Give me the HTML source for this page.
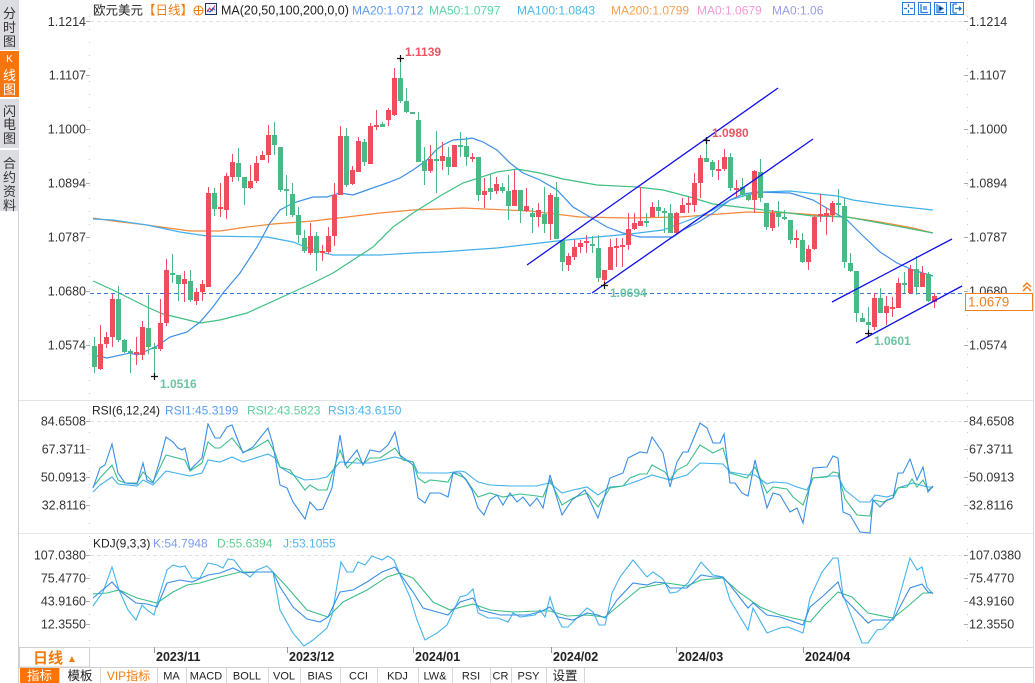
<!DOCTYPE html>
<html><head><meta charset="utf-8"><style>
html,body{margin:0;padding:0;background:#fff;width:1035px;height:683px;overflow:hidden}
svg{display:block}
text{font-family:"Liberation Sans","Noto Sans CJK SC",sans-serif}
.ax{font-size:12.5px;fill:#333}
.cj{font-family:"Liberation Sans","Noto Sans CJK SC",sans-serif}
.tb{font-family:"Liberation Mono","Noto Sans CJK SC",monospace;font-size:11px;fill:#222}
</style></head><body>
<svg width="1035" height="683" viewBox="0 0 1035 683" xmlns="http://www.w3.org/2000/svg">
<!-- sidebar -->
<rect x="0" y="0" width="19" height="50" fill="#dcdde3"/>
<rect x="0" y="51" width="19" height="46" fill="#f5760f"/>
<rect x="0" y="99" width="19" height="49" fill="#dcdde3"/>
<rect x="0" y="150" width="19" height="61" fill="#dcdde3"/>
<line x1="18.5" y1="211" x2="18.5" y2="683" stroke="#cfcfd4"/>
<g font-size="13" fill="#333" text-anchor="middle" class="cj">
<text x="9.5" y="18">分</text><text x="9.5" y="32">时</text><text x="9.5" y="46">图</text>
<text x="9.5" y="62" font-size="10" fill="#fff">K</text><text x="9.5" y="80" fill="#fff">线</text><text x="9.5" y="94" fill="#fff">图</text>
<text x="9.5" y="116">闪</text><text x="9.5" y="129">电</text><text x="9.5" y="143">图</text>
<text x="9.5" y="168">合</text><text x="9.5" y="182">约</text><text x="9.5" y="196">资</text><text x="9.5" y="210">料</text>
</g>
<!-- right border -->
<line x1="1033.5" y1="0" x2="1033.5" y2="683" stroke="#dedede"/>
<!-- legend -->
<g font-size="12">
<text x="93" y="14.5" fill="#222" font-size="12.5">欧元美元</text>
<text x="143" y="14.5" fill="#f07c10" font-size="12.5">【日线】</text>
<text x="221" y="14.5" fill="#222" font-size="12.5">MA(20,50,100,200,0,0)</text>
<text x="352" y="14.5" fill="#5b9df5">MA20:1.0712</text>
<text x="429" y="14.5" fill="#5fd3a5">MA50:1.0797</text>
<text x="517" y="14.5" fill="#4db8ea">MA100:1.0843</text>
<text x="611" y="14.5" fill="#f5a050">MA200:1.0799</text>
<text x="697" y="14.5" fill="#f09ad8">MA0:1.0679</text>
<text x="772" y="14.5" fill="#9a9af5">MA0:1.06</text>
</g>
<circle cx="198.5" cy="10.5" r="4.5" fill="none" stroke="#f07c10"/>
<line x1="194" y1="10.5" x2="203" y2="10.5" stroke="#f07c10"/><line x1="198.5" y1="6" x2="198.5" y2="15" stroke="#f07c10"/>
<rect x="205.5" y="3.5" width="11" height="11" fill="#f4f6ff" stroke="#223366"/>
<polyline points="207,12 209.5,8 212,11 215,5.5" fill="none" stroke="#e03040"/>
<polyline points="207,10 210,12 213,8 215,10" fill="none" stroke="#2050d0"/>
<!-- top right icons -->
<g fill="#fff" stroke="#2b7bd6">
<rect x="902.5" y="2.5" width="12" height="12"/><rect x="918.5" y="2.5" width="12" height="12"/>
<rect x="934.5" y="2.5" width="12" height="12"/><rect x="950.5" y="2.5" width="13" height="12"/>
</g>
<g stroke="#2b7bd6" stroke-width="1.3">
<path d="M908.5 4v3M908.5 10v3M904 8.5h3M910 8.5h3"/>
<path d="M921 4v9M921 12.5h7M924 6v4M926 6v4"/>
<path d="M937 4v9M937 12.5h7M939 6l4 2.5-4 2.5z"/>
<path d="M953 4v9M953 4h4M953 13h4M955 8.5h6M959 6.5l2 2-2 2"/>
</g>
<!-- grid & axes -->
<line x1="90" y1="21.5" x2="963" y2="21.5" stroke="#e2e2e2" stroke-dasharray="4,3"/>
<line x1="90" y1="421.5" x2="963" y2="421.5" stroke="#e2e2e2" stroke-dasharray="4,3"/>
<line x1="90" y1="555.5" x2="963" y2="555.5" stroke="#e2e2e2" stroke-dasharray="4,3"/>
<line x1="19" y1="400.5" x2="1033" y2="400.5" stroke="#e3e3e8"/>
<line x1="19" y1="533.5" x2="1033" y2="533.5" stroke="#e3e3e8"/>
<line x1="19" y1="647.5" x2="1033" y2="647.5" stroke="#dcdcdc"/>
<line x1="89.5" y1="16" x2="89.5" y2="647" stroke="#c8c8c8" stroke-dasharray="1,12"/>
<line x1="967.5" y1="16" x2="967.5" y2="647" stroke="#c8c8c8" stroke-dasharray="1,12"/>
<g stroke="#aaa">
<path d="M86 21.5h4M86 75.5h4M86 129.5h4M86 183.5h4M86 237.5h4M86 291.5h4M86 345.5h4M86 421.5h4M86 449.5h4M86 477.5h4M86 505.5h4M86 555.5h4M86 578.5h4M86 601.5h4M86 624.5h4"/>
<path d="M964 21.5h4M964 75.5h4M964 129.5h4M964 183.5h4M964 237.5h4M964 291.5h4M964 345.5h4M964 421.5h4M964 449.5h4M964 477.5h4M964 505.5h4M964 555.5h4M964 578.5h4M964 601.5h4M964 624.5h4"/>
</g>
<g class="ax" text-anchor="end">
<text x="86" y="26">1.1214</text><text x="86" y="79.5">1.1107</text><text x="86" y="133.5">1.1000</text><text x="86" y="187.5">1.0894</text><text x="86" y="241.5">1.0787</text><text x="86" y="295.5">1.0680</text><text x="86" y="349.5">1.0574</text>
<text x="86" y="425.5">84.6508</text><text x="86" y="453.5">67.3711</text><text x="86" y="481.5">50.0913</text><text x="86" y="509.5">32.8116</text>
<text x="86" y="559.5">107.0380</text><text x="86" y="582.5">75.4770</text><text x="86" y="605.5">43.9160</text><text x="86" y="628.5">12.3550</text>
</g>
<g class="ax">
<text x="969" y="26">1.1214</text><text x="969" y="79.5">1.1107</text><text x="969" y="133.5">1.1000</text><text x="969" y="187.5">1.0894</text><text x="969" y="241.5">1.0787</text><text x="969" y="295.5">1.0680</text><text x="969" y="349.5">1.0574</text>
<text x="969" y="425.5">84.6508</text><text x="969" y="453.5">67.3711</text><text x="969" y="481.5">50.0913</text><text x="969" y="509.5">32.8116</text>
<text x="969" y="559.5">107.0380</text><text x="969" y="582.5">75.4770</text><text x="969" y="605.5">43.9160</text><text x="969" y="628.5">12.3550</text>
</g>
<!-- MA lines -->
<g fill="none" stroke-width="1.2">
<polyline stroke="#f5883a" points="93,218 113,221 147,225 190,231 220,231 247,227 273,224 313,221 347,217 380,213 413,210 440,209 463,208 530,211 580,217 630,218 680,217 720,214 747,212 790,213 847,217 880,222 913,228 933,233"/>
<polyline stroke="#40b0ec" points="93,219 113,220 147,225 180,232 207,236 267,237 293,242 313,250 333,255 380,255 413,253 440,252 497,248 557,241 597,237 630,234 663,230 697,217 713,210 730,200 747,195 763,192 790,191 837,196 853,200 887,205 933,210"/>
<polyline stroke="#3fbf80" points="93,281 113,290 147,307 163,314 180,318 200,323 220,320 247,313 280,298 313,283 333,273 353,260 373,247 393,227 413,213 440,196 463,183 497,172 517,169 540,173 563,179 597,185 637,187 663,190 690,197 713,204 747,208 780,212 813,216 847,217 880,223 933,233"/>
<polyline stroke="#3d8fe8" points="93,355 107,358 130,353 137,355 157,346 170,337 187,332 200,322 213,307 223,293 240,273 257,247 270,223 280,210 293,203 313,197 327,197 340,193 353,195 367,190 387,183 400,178 413,170 427,160 436,150 443,145 453,140 467,139 472,138 483,142 497,150 510,163 523,173 540,180 557,190 573,207 590,217 607,227 623,233 640,237 663,237 673,237 683,230 697,223 713,213 730,200 743,194 757,192 790,193 797,195 813,200 830,210 847,220 860,233 880,252 897,263 913,270 933,276"/>
</g>
<!-- current price dashed -->
<line x1="90" y1="293.5" x2="965" y2="293.5" stroke="#3a7fe0" stroke-dasharray="4,3"/>
<!-- candles -->
<path fill="none" stroke="#ee4d5c" d="M100.5 325V370M106.5 332V348M112.5 294V347M136.5 337V365M142.5 321V360M160.5 299V351M166.5 259V326M184.5 271V302M196.5 288V305M202.5 280V301M208.5 187V287M220.5 183V217M226.5 173V219M232.5 154V182M250.5 165V189M256.5 156V183M262.5 151V160M268.5 125V163M310.5 223V255M322.5 245V261M328.5 227V254M334.5 183V246M340.5 126V195M352.5 166V185M358.5 137V172M370.5 123V164M376.5 110V130M388.5 108V126M394.5 68V116M430.5 145V173M442.5 142V170M454.5 145V167M472.5 153V162M484.5 178V208M496.5 177V194M514.5 170V206M526.5 188V212M538.5 203V227M550.5 193V240M568.5 253V271M574.5 240V260M580.5 240V253M586.5 235V253M604.5 270V285M610.5 239V270M616.5 238V267M622.5 238V267M628.5 213V250M634.5 213V230M640.5 187V226M652.5 202V217M676.5 212V235M682.5 198V213M688.5 197V213M694.5 173V212M700.5 155V198M718.5 160V180M724.5 149V171M736.5 180V197M754.5 170V213M772.5 210V231M796.5 230V248M808.5 245V270M814.5 215V250M820.5 194V222M826.5 208V235M832.5 201V222M874.5 293V330M886.5 296V325M892.5 297V317M898.5 278V308M910.5 265V294M922.5 266V287M934.5 293V308"/>
<path fill="#ee4d5c" d="M98 344h5V369h-5zM104 337h5V344h-5zM110 299h5V337h-5zM134 352h5V354h-5zM140 327h5V355h-5zM158 323h5V349h-5zM164 270h5V323h-5zM182 279h5V284h-5zM194 292h5V301h-5zM200 284h5V292h-5zM206 193h5V287h-5zM218 207h5V209h-5zM224 176h5V210h-5zM230 162h5V177h-5zM248 181h5V188h-5zM254 163h5V181h-5zM260 155h5V160h-5zM266 135h5V155h-5zM308 236h5V253h-5zM320 251h5V253h-5zM326 236h5V252h-5zM332 195h5V236h-5zM338 136h5V195h-5zM350 170h5V184h-5zM356 141h5V172h-5zM368 126h5V164h-5zM374 125h5V127h-5zM386 110h5V120h-5zM392 78h5V115h-5zM428 159h5V171h-5zM440 156h5V161h-5zM452 145h5V167h-5zM470 157h5V159h-5zM482 191h5V195h-5zM494 184h5V191h-5zM512 190h5V206h-5zM524 206h5V211h-5zM536 210h5V217h-5zM548 195h5V224h-5zM566 256h5V265h-5zM572 247h5V257h-5zM578 243h5V247h-5zM584 241h5V243h-5zM602 270h5V280h-5zM608 247h5V270h-5zM614 246h5V248h-5zM620 245h5V247h-5zM626 229h5V245h-5zM632 223h5V229h-5zM638 221h5V226h-5zM650 207h5V217h-5zM674 213h5V233h-5zM680 205h5V213h-5zM686 203h5V205h-5zM692 183h5V205h-5zM698 158h5V183h-5zM716 169h5V171h-5zM722 157h5V169h-5zM734 188h5V190h-5zM752 171h5V200h-5zM770 213h5V228h-5zM794 238h5V240h-5zM806 249h5V262h-5zM812 217h5V249h-5zM818 214h5V216h-5zM824 213h5V216h-5zM830 203h5V215h-5zM872 298h5V327h-5zM884 306h5V313h-5zM890 307h5V309h-5zM896 283h5V308h-5zM908 269h5V293h-5zM920 273h5V287h-5zM932 296h5V302h-5z"/>
<path fill="none" stroke="#4cb886" d="M94.5 337V373M118.5 286V342M124.5 339V353M130.5 349V373M148.5 295V354M154.5 343V376M172.5 254V283M178.5 275V301M190.5 270V302M214.5 188V216M238.5 148V181M244.5 177V205M274.5 122V155M280.5 147V192M286.5 175V216M292.5 183V217M298.5 207V243M304.5 230V253M316.5 232V271M346.5 128V187M364.5 139V166M382.5 122V127M400.5 58V103M406.5 88V113M412.5 112V113M418.5 112V162M424.5 147V185M436.5 131V193M448.5 147V175M460.5 132V157M466.5 137V166M478.5 157V201M490.5 175V200M502.5 183V193M508.5 175V220M520.5 190V223M532.5 208V233M544.5 187V233M556.5 182V239M562.5 240V271M592.5 236V253M598.5 235V282M646.5 213V227M658.5 200V217M664.5 208V233M670.5 204V233M706.5 140V162M712.5 160V177M730.5 153V191M742.5 178V197M748.5 193V201M760.5 159V202M766.5 203V230M778.5 201V227M784.5 210V220M790.5 220V244M802.5 233V263M838.5 189V217M844.5 198V268M850.5 253V272M856.5 271V322M862.5 313V322M868.5 307V333M880.5 288V313M904.5 272V293M916.5 256V295M928.5 272V302"/>
<path fill="#4cb886" d="M92 346h5V367h-5zM116 299h5V340h-5zM122 340h5V352h-5zM128 351h5V353h-5zM146 328h5V347h-5zM152 347h5V349h-5zM170 273h5V275h-5zM176 275h5V284h-5zM188 281h5V300h-5zM212 193h5V209h-5zM236 163h5V177h-5zM242 177h5V188h-5zM272 135h5V145h-5zM278 147h5V190h-5zM284 189h5V191h-5zM290 194h5V215h-5zM296 215h5V235h-5zM302 238h5V251h-5zM314 236h5V253h-5zM344 136h5V185h-5zM362 142h5V162h-5zM380 124h5V127h-5zM398 78h5V101h-5zM404 101h5V112h-5zM410 112h5V114h-5zM416 120h5V162h-5zM422 161h5V171h-5zM434 159h5V161h-5zM446 157h5V167h-5zM458 145h5V147h-5zM464 146h5V157h-5zM476 157h5V195h-5zM488 188h5V192h-5zM500 187h5V191h-5zM506 191h5V206h-5zM518 190h5V211h-5zM530 213h5V217h-5zM542 214h5V224h-5zM554 197h5V239h-5zM560 240h5V262h-5zM590 244h5V246h-5zM596 248h5V278h-5zM644 221h5V223h-5zM656 207h5V211h-5zM662 211h5V213h-5zM668 213h5V233h-5zM704 158h5V162h-5zM710 162h5V170h-5zM728 157h5V188h-5zM740 187h5V195h-5zM746 195h5V200h-5zM758 172h5V198h-5zM764 203h5V227h-5zM776 213h5V217h-5zM782 217h5V219h-5zM788 220h5V240h-5zM800 240h5V262h-5zM836 203h5V205h-5zM842 206h5V262h-5zM848 263h5V271h-5zM854 271h5V313h-5zM860 318h5V322h-5zM866 322h5V325h-5zM878 298h5V313h-5zM902 283h5V285h-5zM914 269h5V287h-5zM926 274h5V301h-5z"/>
<!-- channels -->
<g stroke="#1010ee" stroke-width="1.3">
<line x1="527" y1="265" x2="778" y2="88"/>
<line x1="592" y1="293" x2="813" y2="139"/>
<line x1="832" y1="302" x2="952" y2="239"/>
<line x1="856" y1="343" x2="962" y2="286"/>
</g>
<!-- markers -->
<g stroke="#111" stroke-width="1.2">
<path d="M397 58.5h7M400.5 55v7"/><path d="M703 140.5h7M706.5 137v7"/><path d="M601 285.5h7M604.5 282v7"/><path d="M865 333.5h7M868.5 330v7"/><path d="M151 376.5h7M154.5 373v7"/>
</g>
<g font-size="12" font-weight="bold">
<text x="405" y="56" fill="#ea5363">1.1139</text>
<text x="712" y="137" fill="#ea5363">1.0980</text>
<text x="610" y="297" fill="#6cc4a0">1.0694</text>
<text x="874" y="345" fill="#6cc4a0">1.0601</text>
<text x="160" y="388" fill="#6cc4a0">1.0516</text>
</g>
<!-- price tag -->
<rect x="965.5" y="293.5" width="67" height="17" fill="#fff" stroke="#f08020"/>
<text x="968" y="306.5" font-size="13.5" fill="#f08020">1.0679</text>
<path d="M1023 287l4-4 4 4M1023 291l4-4 4 4" fill="none" stroke="#f08020" stroke-width="1.5"/>
<!-- RSI -->
<g font-size="12">
<text x="92" y="414.5" fill="#222">RSI(6,12,24)</text>
<text x="165" y="414.5" fill="#5a9cf5">RSI1:45.3199</text>
<text x="247" y="414.5" fill="#5ccf9a">RSI2:43.5823</text>
<text x="328" y="414.5" fill="#4ab6ee">RSI3:43.6150</text>
</g>
<g fill="none" stroke-width="1.1">
<polyline stroke="#40b0ee" points="93,492 100,485 112,477 118,484 137,486 143,480 153,485 166,471 185,475 190,476 202,473 208,460 220,462 232,457 243,462 268,454 275,458 280,467 293,475 305,480 318,479 327,477 340,462 357,463 370,463 395,457 413,462 418,473 448,473 460,471 465,472 478,482 490,485 510,486 537,486 540,485 550,483 562,493 573,490 587,487 598,495 610,487 623,486 640,480 652,475 670,480 687,475 700,463 723,464 730,472 747,475 755,475 767,484 773,482 787,483 797,487 807,490 813,478 830,476 838,476 845,490 860,502 870,502 875,495 887,497 893,495 898,488 913,483 927,487 933,487"/>
<polyline stroke="#3cbe8a" points="93,487 100,478 112,465 118,480 125,483 137,483 143,472 153,482 166,455 185,460 190,471 202,463 208,442 215,448 220,448 232,438 243,452 253,449 268,440 275,453 280,467 290,470 305,490 310,485 318,490 327,490 340,450 347,468 357,458 363,464 370,458 380,458 395,448 403,460 413,462 418,478 425,483 430,480 448,482 453,473 465,478 478,497 490,493 503,497 520,494 537,496 543,497 550,480 562,505 573,498 587,493 598,507 610,488 623,486 630,478 640,474 647,474 652,465 665,472 670,480 677,470 687,465 700,445 713,453 723,448 730,473 747,478 755,467 767,493 773,487 787,489 793,497 803,505 813,478 827,477 833,472 838,473 845,499 857,515 870,516 873,500 883,502 893,498 898,488 907,487 912,479 917,487 923,480 928,490 933,487"/>
<polyline stroke="#3a8ee6" points="93,488 100,468 105,465 112,444 118,473 125,483 137,484 143,463 147,480 153,483 160,460 166,437 173,442 178,448 182,450 185,448 190,470 202,458 208,424 215,438 220,438 227,427 232,425 237,438 243,453 253,447 260,438 268,428 273,445 280,485 287,488 293,502 305,519 310,502 317,510 323,509 332,488 340,435 345,465 357,450 363,465 370,450 380,452 388,445 395,432 400,455 413,465 418,498 425,503 430,493 440,493 448,497 453,473 460,473 466,480 472,490 478,508 484,515 490,500 497,495 503,505 510,493 517,502 523,497 530,506 537,498 543,508 550,475 562,515 572,500 585,490 598,518 610,478 623,473 628,458 640,452 647,453 652,437 663,453 670,487 677,462 683,452 688,452 700,423 707,428 713,443 720,443 724,434 730,483 735,483 742,493 748,496 755,460 767,508 773,493 780,495 790,512 797,508 803,523 813,468 827,467 833,456 838,458 843,512 850,515 860,532 870,533 873,500 880,507 887,500 893,498 898,473 903,473 910,459 917,480 923,467 928,492 933,486"/>
</g>
<!-- KDJ -->
<g font-size="12">
<text x="93" y="547.5" fill="#222">KDJ(9,3,3)</text>
<text x="153" y="547.5" fill="#7c9cf5">K:54.7948</text>
<text x="217" y="547.5" fill="#5ccf90">D:55.6394</text>
<text x="283" y="547.5" fill="#4fb8f0">J:53.1055</text>
</g>
<g fill="none" stroke-width="1.1">
<polyline stroke="#3cbf85" points="93,594 107,593 119,590 137,598 157,603 173,592 187,585 200,583 220,577 240,572 257,572 273,572 287,587 307,610 328,617 343,602 367,590 387,577 400,573 413,578 433,602 450,610 473,604 490,610 513,612 540,611 550,611 567,616 587,615 605,617 617,607 640,588 667,583 687,586 701,580 723,578 740,593 760,607 780,615 810,622 823,607 838,592 852,597 868,613 893,618 907,607 923,593 933,593"/>
<polyline stroke="#45b4ee" points="93,606 103,592 112,567 119,590 128,610 136,620 142,605 147,610 154,615 160,593 167,570 173,565 180,567 185,566 192,578 200,578 208,563 217,565 223,568 228,559 234,560 243,572 250,577 257,570 267,566 273,572 280,610 293,633 304,646 313,640 327,628 332,615 341,562 347,572 353,572 358,562 365,565 372,556 382,560 388,556 394,560 401,577 410,597 417,620 425,640 437,633 447,625 460,597 467,595 473,589 478,613 488,618 498,618 508,622 513,613 520,617 535,615 540,610 545,617 550,597 555,613 562,627 568,627 577,618 587,608 593,612 599,625 605,625 612,593 620,577 633,560 647,577 653,572 663,579 670,593 677,592 688,583 701,562 713,575 723,577 730,600 748,630 753,608 767,633 780,628 788,627 803,633 810,598 822,572 833,558 838,558 843,595 862,643 868,643 877,630 883,629 893,618 902,587 910,558 917,570 922,567 927,587 933,594"/>
<polyline stroke="#3a8ee6" points="93,598 112,582 120,591 136,603 147,604 157,607 167,583 180,580 192,582 208,575 220,573 233,568 243,573 257,572 273,572 280,587 293,607 307,619 320,622 328,617 340,592 353,590 367,582 382,572 395,567 403,578 413,592 423,608 437,612 448,615 460,602 473,598 480,610 500,615 513,615 527,615 540,612 550,607 558,617 573,620 587,613 598,615 605,618 617,600 633,583 647,585 655,582 665,583 670,588 687,588 701,575 713,577 723,577 730,585 748,608 753,603 767,615 780,617 803,625 810,607 822,597 838,582 843,597 868,623 873,620 893,620 902,603 910,588 922,584 928,592 933,593"/>
</g>
<!-- x axis -->
<rect x="19.5" y="647.5" width="70" height="19.5" fill="#fff" stroke="#d0d0d0"/>
<text x="33" y="663" font-size="15" font-weight="bold" fill="#f07c10">日线</text>
<text x="67" y="662" font-size="10" fill="#f07c10">▲</text>
<g stroke="#999"><path d="M154.5 647v6M287.5 647v6M413.5 647v6M551.5 647v6M676.5 647v6M803.5 647v6"/></g>
<g font-size="12.5" font-weight="bold" fill="#222">
<text x="156" y="661">2023/11</text><text x="289" y="661">2023/12</text><text x="415" y="661">2024/01</text><text x="553" y="661">2024/02</text><text x="678" y="661">2024/03</text><text x="805" y="661">2024/04</text>
</g>
<!-- tab bar -->
<line x1="19" y1="667.5" x2="1033" y2="667.5" stroke="#cfcfcf"/>
<rect x="20" y="668" width="39" height="15" fill="#ff7300"/>
<g stroke="#d6d6d6"><path d="M59.5 668v15M100.5 668v15M157.5 668v15M186.5 668v15M226.5 668v15M268.5 668v15M300.5 668v15M340.5 668v15M377.5 668v15M418.5 668v15M452.5 668v15M490.5 668v15M511.5 668v15M546.5 668v15M584.5 668v15"/></g>
<g class="tb" text-anchor="middle">
<text x="39.5" y="680" fill="#fff" font-size="12.5">指标</text>
<text x="80" y="680" font-size="12.5">模板</text>
<text x="128.5" y="680" fill="#f07c10" font-size="12">VIP指标</text>
<text x="171.5" y="679.5">MA</text>
<text x="206" y="679.5">MACD</text>
<text x="247" y="679.5">BOLL</text>
<text x="284" y="679.5">VOL</text>
<text x="320" y="679.5">BIAS</text>
<text x="358.5" y="679.5">CCI</text>
<text x="397.5" y="679.5">KDJ</text>
<text x="435" y="679.5">LW&amp;</text>
<text x="471" y="679.5">RSI</text>
<text x="500.5" y="679.5">CR</text>
<text x="528.5" y="679.5">PSY</text>
<text x="565" y="680" font-size="12.5">设置</text>
</g>
</svg>
</body></html>
